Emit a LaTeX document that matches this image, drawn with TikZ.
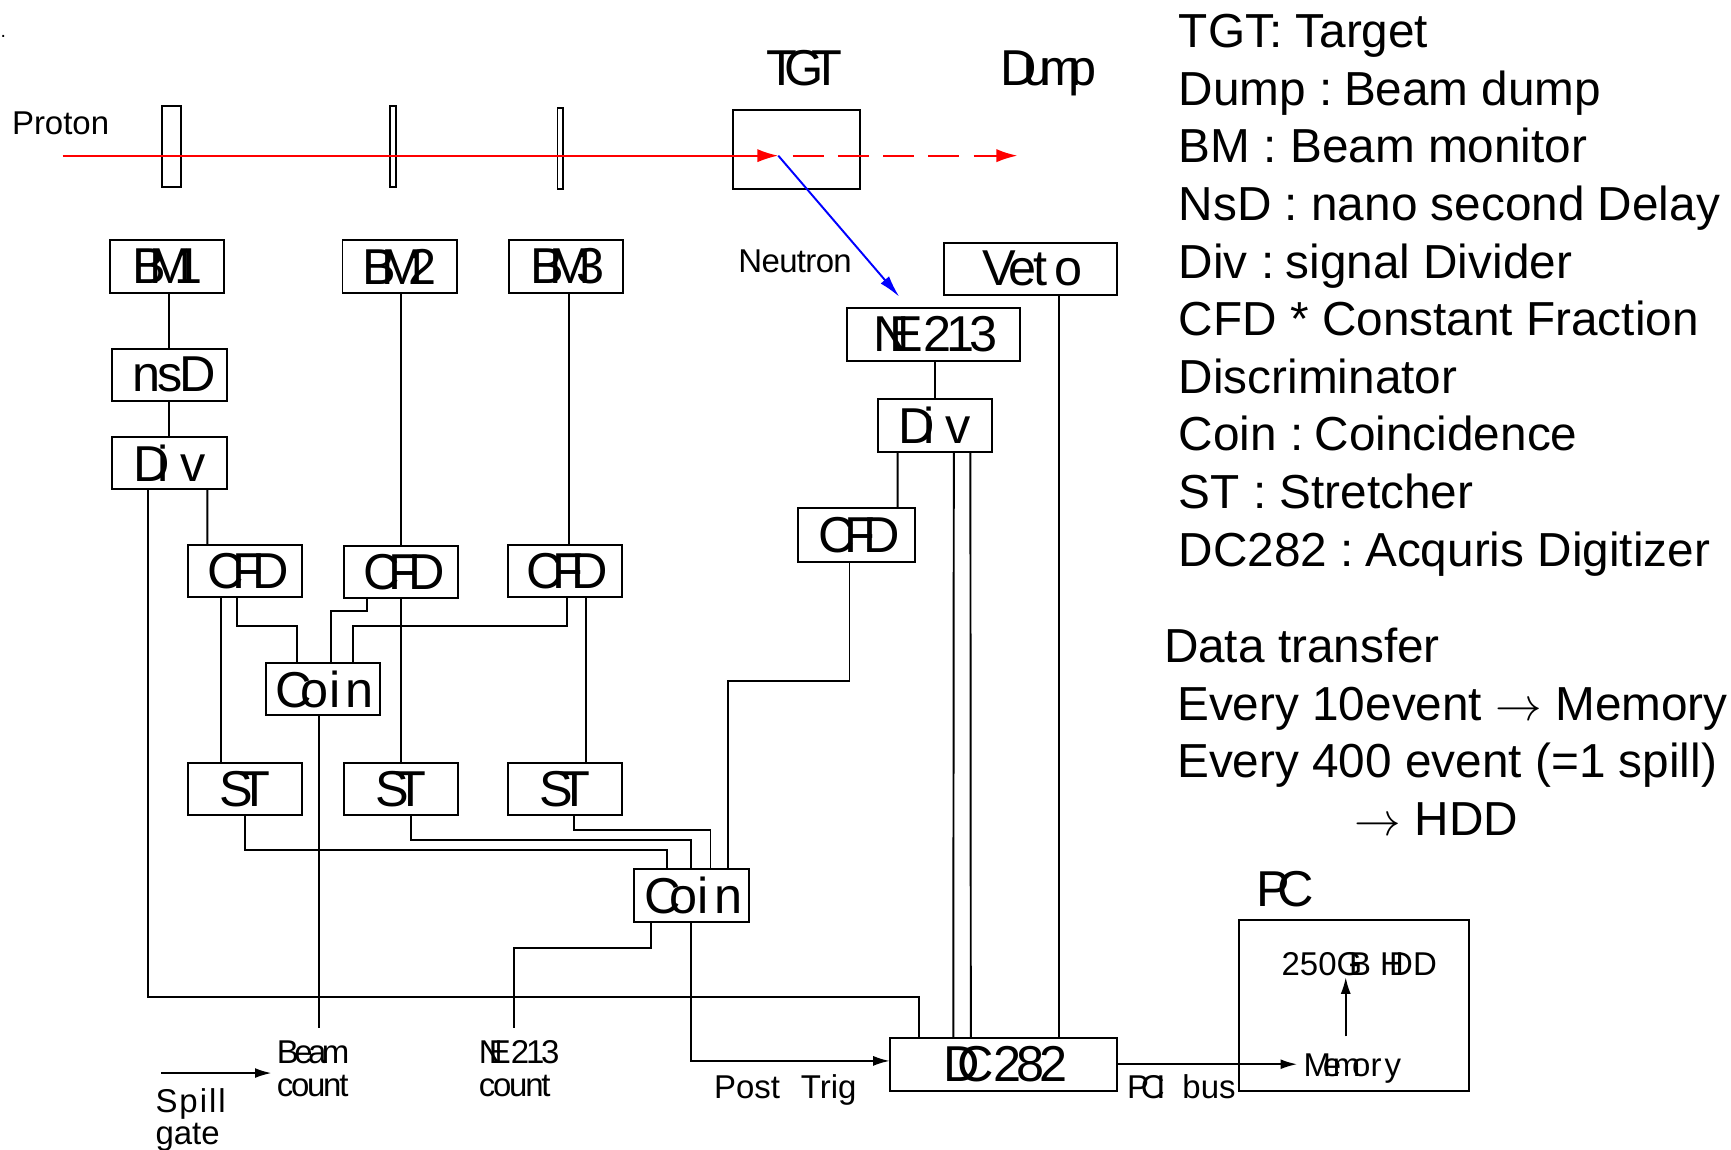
\documentclass[tikz,border=0pt]{standalone}
\usepackage{fontspec}
\setmainfont{Liberation Sans}
\usetikzlibrary{positioning,arrows.meta}
\newcommand{\sq}[2]{{\addfontfeature{LetterSpace=#1}#2}}
\newcommand{\cfdname}{\kern1.5pt\sq{-22}{CFD}}
\newcommand{\coinname}{\kern1pt\sq{-22}{Co}i\kern1.5pt n}
\newcommand{\divname}{\sq{-24}{Di}\kern3pt v}
\newcommand{\stname}{\sq{-26}{ST}}

\begin{document}
\begin{tikzpicture}[line width=0.5pt,every node/.style={font=\fontsize{13}{15}\selectfont}]
    \tikzstyle{b}=[rectangle,draw,inner sep=0pt,outer sep=0pt,minimum width=1.035cm,minimum height=0.475cm];
    \tikzstyle{w}=[b,minimum width=1.57cm];
    \tikzstyle{det}=[rectangle,draw,inner sep=0pt,outer sep=0pt,minimum height=0.734cm];
    \tikzstyle{lb}=[font=\fontsize{8.5}{8.4}\selectfont,inner sep=0pt,anchor=base west,align=left];
    \tikzstyle{tt}=[inner sep=0pt,anchor=base west];
    \tikzstyle{txt}=[font=\fontsize{12.3}{14.85}\selectfont,inner sep=0pt,anchor=north west,align=left];
    \tikzstyle{beam}=[red,line width=0.5pt,-{Latex[length=1.9mm,width=1.2mm]}];
    \tikzstyle{sig}=[-{Latex[length=1.5mm,width=0.9mm]}];
    \useasboundingbox (0,0) rectangle (15.68,10.41);

    \node[anchor=base,inner sep=0pt,font=\tiny] (dot) at (0.03,10.07) {.};
    \node[det,minimum width=0.17cm] (detA) at (1.553,9.083) {};
    \node[det,minimum width=0.054cm] (detB) at (3.557,9.083) {};
    \node[det,minimum width=0.054cm] (detC) at (5.077,9.063) {};
    \node[rectangle,draw,inner sep=0pt,outer sep=0pt,minimum width=1.155cm,minimum height=0.715cm] (tgt) at (7.215,9.055) {};

    \node[b] (bmA) at (1.515,7.995) {\sq{-33}{BM1}};
    \node[b] (bmB) at (3.62,7.995) {\sq{-29}{BM2}};
    \node[b] (bmC) at (5.125,7.995) {\kern1pt\sq{-29}{BM3}};
    \node[b] (nsd) at (1.535,7.015) {\kern2.5pt\sq{-7}{nsD}};
    \node[b] (divA) at (1.535,6.215) {\divname};
    \node[b] (cfdA) at (2.22,5.237) {\cfdname};
    \node[b] (cfdB) at (3.633,5.23) {\cfdname};
    \node[b] (cfdC) at (5.115,5.237) {\cfdname};
    \node[b] (coinA) at (2.925,4.167) {\coinname};
    \node[b] (stA) at (2.22,3.262) {\stname};
    \node[b] (stB) at (3.633,3.262) {\stname};
    \node[b] (stC) at (5.115,3.262) {\stname};
    \node[b] (coinB) at (6.263,2.30) {\coinname};
    \node[b,minimum width=1.06cm,minimum height=0.49cm] (cfdD) at (7.76,5.565) {\cfdname};
    \node[w] (veto) at (9.335,7.975) {\kern1pt\sq{-8}{Vet}\kern2pt o};
    \node[w] (ne) at (8.455,7.38) {\kern1pt\sq{-40}{NE}\sq{-10}{213}};
    \node[b] (divB) at (8.47,6.555) {\divname};
    \node[b,minimum width=2.06cm,minimum height=0.48cm] (dc) at (9.09,0.77) {\kern1pt\sq{-45}{DC}\sq{-10}{282}};
    \node[rectangle,draw,inner sep=0pt,outer sep=0pt,minimum width=2.09cm,minimum height=1.55cm] (pc) at (12.265,1.305) {};

    \node[tt] (tgtlabel) at (6.93,9.64) {\sq{-24}{TGT}};
    \node[tt] (dumplabel) at (9.05,9.64) {\sq{-25}{Dump}};
    \node[tt] (pclabel) at (11.37,2.2) {\sq{-25}{PC}};
    \node[lb] (proton) at (0.10,9.19) {Proton};
    \node[lb] (neutron) at (6.68,7.94) {\sq{-2}{Neutron}};
    \node[lb] (hdd) at (11.60,1.57) {250\sq{-40}{GB}\ \sq{-45}{HD}D};
    \node[lb,anchor=center,inner sep=0.5mm] (mem) at (12.25,0.73) {\sq{-25}{Memo}r\kern0.8pt y};
    \node[lb] (beamcount) at (2.50,0.48) {\sq{-14}{Beam}\\\sq{-7}{count}};
    \node[lb] (necount) at (4.33,0.48) {\sq{-42}{NE}\sq{-10}{213}\\\sq{-7}{count}};
    \node[lb] (posttrig) at (6.46,0.46) {Post\kern3pt\ Trig};
    \node[lb] (pci) at (10.20,0.46) {\sq{-25}{PCI}\kern2pt\ bus};
    \node[lb] (spill) at (1.40,0.04) {\sq{6}{Spill}\\gate};

    \node[txt] (legend) at (10.67,10.29) {TGT: Target\\Dump :\kern-0.5pt\ Beam dump\\BM : Beam monitor\\NsD : nano second Delay\\Div :\kern-0.5pt\ signal Divider\\CFD * Constant Fraction\\Discriminator\\Coin :\kern-0.5pt\ Coincidence\\ST : Stretcher\\DC282 :\kern-0.5pt\ Acquris Digitizer};
    \node[txt] (transfer) at (10.535,4.73) {Data transfer\\\hspace*{0.12cm}Every 10event $\rightarrow$ Memory\\\hspace*{0.12cm}Every 400 event (=1 spill)\\\hspace*{1.73cm}$\rightarrow$ HDD};

    \coordinate (pstart) at (0.568,9.0);
    \coordinate (tip) at (7.05,9.0);
    \coordinate (dumpend) at (9.216,9.0);
    \coordinate (nend) at (8.146,7.722);
    \coordinate (beamend) at (2.889,1.10);
    \coordinate (neend) at (4.657,1.10);
    \coordinate (spillstart) at (1.46,0.69);

    \draw[beam] (pstart) -- (tip);
    \draw[beam,dash pattern=on 2.8mm off 1.3mm,shorten <=1.3mm] (tip) -- (dumpend);
    \draw[blue,-{Latex[length=2mm,width=1mm]}] (tip) -- (nend);

    \draw (nsd.north |- bmA.south) -- (nsd);
    \draw (nsd) -- (divA);
    \draw (cfdB.north |- bmB.south) -- (cfdB.north);
    \draw ([xshift=0.35mm]bmC.south -| cfdC.north) -- ([xshift=0.35mm]cfdC.north);
    \draw ([xshift=3.43mm]divA.south) -- ([xshift=-3.42mm]cfdA.north);
    \draw ([xshift=-2.15mm]cfdA.south) -- ([xshift=-2.15mm]stA.north);
    \draw (cfdB.south) -- (stB.north);
    \draw ([xshift=1.95mm]cfdC.south) -- ([xshift=1.95mm]stC.north);
    \draw ([xshift=-0.72mm]cfdA.south) -- ++(0,-0.26) -| ([xshift=-2.32mm]coinA.north);
    \draw ([xshift=-3.05mm]cfdB.south) -- ++(0,-0.12) -| ([xshift=0.75mm]coinA.north);
    \draw ([xshift=0.17mm]cfdC.south) -- ++(0,-0.26) -| ([xshift=2.75mm]coinA.north);
    \draw (coinA.south -| beamend) -- (beamend);
    \draw (stA.south) -- ++(0,-0.317) -| ([xshift=-2.25mm]coinB.north);
    \draw ([xshift=0.94mm]stB.south) -- ++(0,-0.224) -| (coinB.north);
    \draw ([xshift=0.88mm]stC.south) -- ++(0,-0.134) -| ([xshift=1.73mm]coinB.north);
    \draw ([xshift=3.31mm]coinB.north) -- ++(0,1.707) -| ([xshift=-0.65mm]cfdD.south);
    \draw ([xshift=-3.68mm]coinB.south) -- ++(0,-0.24) -| (neend);
    \draw[sig] (coinB.south) |- ([yshift=0.3mm]dc.west);
    \draw ([xshift=-1.95mm]divA.south) -- ++(0,-4.598) -| ([xshift=-7.66mm]dc.north);
    \draw (ne.south -| divB.north) -- (divB.north);
    \draw ([xshift=-3.4mm]divB.south) -- ([xshift=3.7mm]cfdD.north);
    \draw ([xshift=1.7mm]divB.south) -- ([xshift=-4.55mm]dc.north);
    \draw ([xshift=3.2mm]divB.south) -- ([xshift=-2.96mm]dc.north);
    \draw (veto.south -| 9.59,0) -- ([xshift=5mm]dc.north);
    \draw[sig] (dc.east) -- (dc.east -| mem.west);
    \draw[sig] ([shift={(-0.6mm,1mm)}]mem.north) -- ([xshift=-0.6mm]mem.north |- hdd.south);
    \draw[sig] (spillstart) -- ([xshift=-0.4mm]spillstart -| beamcount.west);
\end{tikzpicture}
\end{document}
